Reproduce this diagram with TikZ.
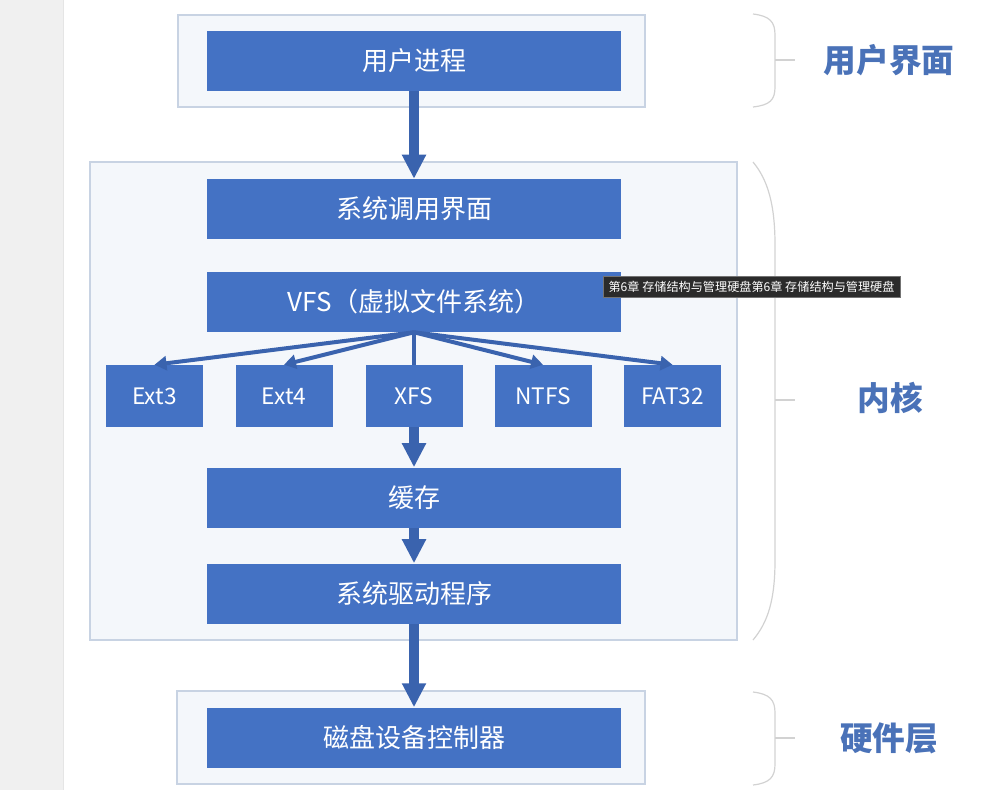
\documentclass[tikz,border=0pt]{standalone}
\usepackage{fontspec}
\setmainfont{Noto Sans CJK SC}
\usetikzlibrary{arrows.meta}

\definecolor{boxblue}{HTML}{4472C4}
\definecolor{arrowblue}{HTML}{3A63AE}
\definecolor{labelblue}{HTML}{4A72B8}
\definecolor{framegray}{HTML}{C8D3E3}
\definecolor{framefill}{HTML}{F4F7FB}
\definecolor{bracegray}{HTML}{D2D2D2}
\definecolor{stripgray}{HTML}{F0F0F0}
\definecolor{tipdark}{HTML}{2B2B2B}

\begin{document}
\begin{tikzpicture}[
  x=0.75pt,y=-0.75pt,
  layer/.style={draw=framegray,fill=framefill,line width=1.1pt},
  block/.style={rectangle,fill=boxblue,text=white,inner sep=0pt,
    minimum width=310.5pt,minimum height=45pt,font=\fontsize{19.5}{22}\selectfont},
  fsblock/.style={rectangle,fill=boxblue,text=white,inner sep=0pt,
    minimum width=72.75pt,minimum height=46.5pt,font=\fontsize{17}{19}\selectfont},
  bigarrow/.style={draw=arrowblue,line width=7.5pt,
    -{Triangle[width=17pt,length=18pt]}},
  fsarrow/.style={draw=arrowblue,line width=3pt,
    -{Triangle[width=10.5pt,length=9pt]}},
  bracket/.style={draw=bracegray,line width=0.9pt},
  sidelabel/.style={text=labelblue,font=\fontsize{24.5}{28}\selectfont\bfseries}
]
\useasboundingbox (0,0) rectangle (998,790);

% left page margin
\fill[stripgray] (0,0) rectangle (63,790);
\draw[draw=black!10] (63,0) -- (63,790);

% layer frames
\draw[layer] (178,15) rectangle (645,107);
\draw[layer] (90,162) rectangle (737,640);
\draw[layer] (177,691) rectangle (645,784);

% blocks
\node[block] (proc) at (414,61) {用户进程};
\node[block] (syscall) at (414,209) {系统调用界面};
\node[block] (vfs) at (414,302) {VFS（虚拟文件系统）};
\node[fsblock] (ext3) at (154.5,396) {Ext3};
\node[fsblock] (ext4) at (284,396) {Ext4};
\node[fsblock] (xfs) at (414,396) {XFS};
\node[fsblock] (ntfs) at (543,396) {NTFS};
\node[fsblock] (fat32) at (672.5,396) {FAT32};
\node[block] (cache) at (414,497.5) {缓存};
\node[block] (driver) at (414,593.5) {系统驱动程序};
\node[block] (disk) at (414,737.5) {磁盘设备控制器};

% connectors
\draw[bigarrow] (proc) -- (syscall);
\foreach \fs in {ext3,ext4,ntfs,fat32}
  \draw[fsarrow] (vfs.south) -- (\fs.north);
\draw[draw=arrowblue,line width=3pt] (vfs.south) -- (xfs.north);
\draw[bigarrow] (xfs) -- (cache);
\draw[bigarrow] (cache) -- (driver);
\draw[bigarrow] (driver) -- (disk);

% brackets
\draw[bracket] (753,14) .. controls (770,16) and (775,22) .. (775,35) -- (775,87)
  .. controls (775,100) and (770,105) .. (753,107);
\draw[bracket] (775,60) -- (795,60);
\draw[bracket] (753,162) .. controls (768,180) and (775,205) .. (775,245) -- (775,560)
  .. controls (775,600) and (768,622) .. (753,640);
\draw[bracket] (775,400) -- (795,400);
\draw[bracket] (753,692) .. controls (770,694) and (775,700) .. (775,713) -- (775,764)
  .. controls (775,777) and (770,783) .. (753,785);
\draw[bracket] (775,738) -- (795,738);

\node[sidelabel] (lbluser) at (889,60) {用户界面};
\node[sidelabel] (lblkernel) at (890,398) {内核};
\node[sidelabel] (lblhw) at (889,738) {硬件层};

% tooltip
\node[anchor=north west,fill=tipdark,draw=black!55,text=white,inner xsep=4pt,
  inner ysep=0pt,minimum height=15.75pt,font=\fontsize{9.1}{10}\selectfont]
  (tip) at (603,276) {第6章 存储结构与管理硬盘第6章 存储结构与管理硬盘};
\end{tikzpicture}
\end{document}
